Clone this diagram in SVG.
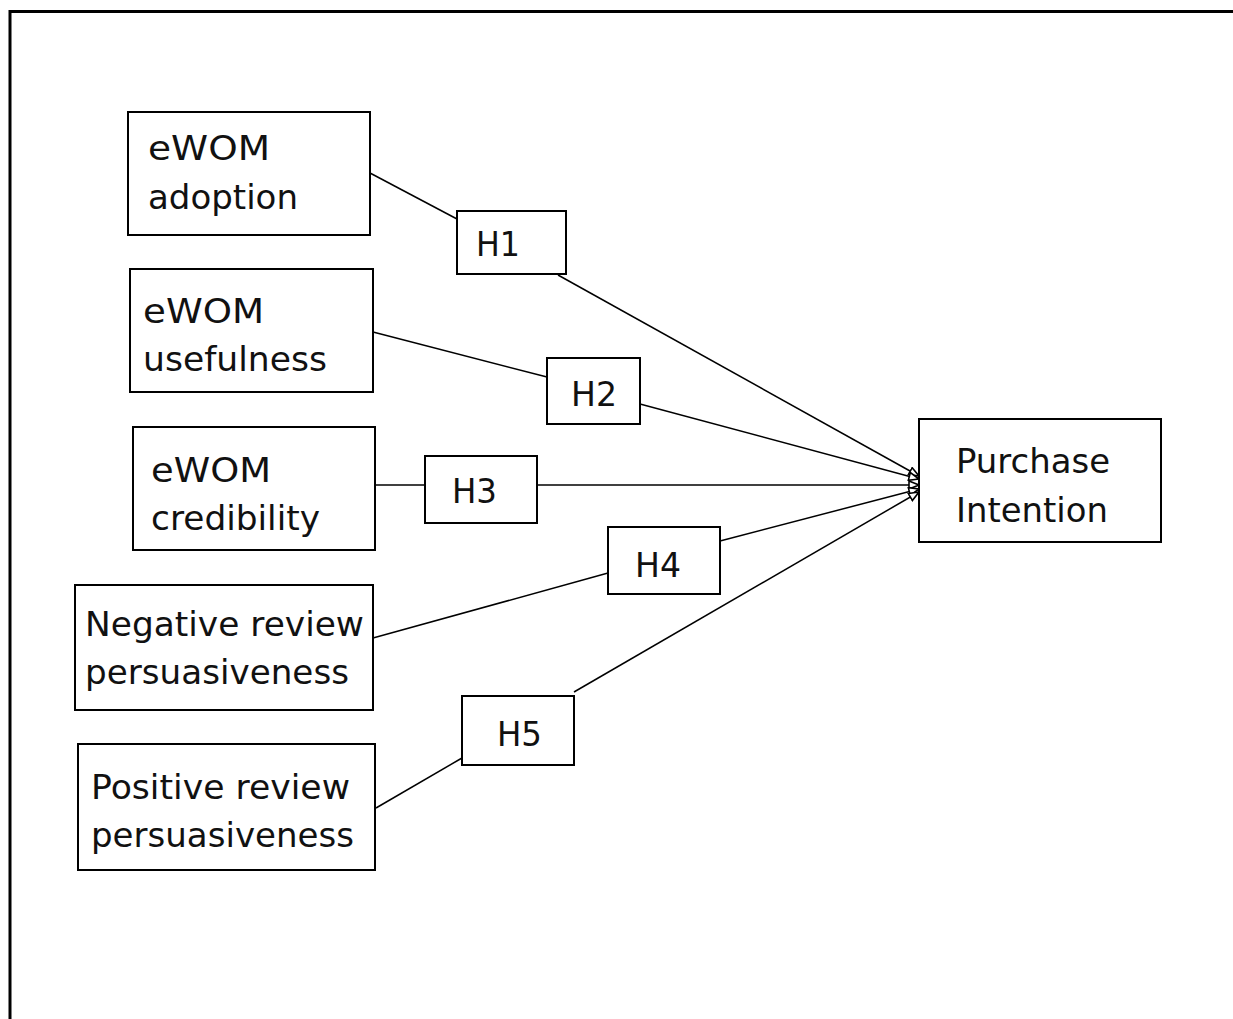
<svg xmlns="http://www.w3.org/2000/svg" width="1233" height="1019" viewBox="0 0 1233 1019">
<defs>
<marker id="arr" markerUnits="userSpaceOnUse" markerWidth="12" markerHeight="10" refX="11" refY="5" orient="auto">
<path d="M1,1 L11,5 L1,9 Z" fill="#fff" stroke="#000" stroke-width="1.6"/>
</marker>
</defs>
<style>
.box{fill:#fff;stroke:#000;stroke-width:2}
.t{font-family:"DejaVu Sans","Liberation Sans",sans-serif;font-size:33px;fill:#111}
.c{fill:none;stroke:#000;stroke-width:1.5}
.frame{fill:none;stroke:#000;stroke-width:3}
</style>
<rect width="1233" height="1019" fill="#fff"/>
<path class="frame" d="M10,1019 L10,11.5 L1233,11.5"/>
<g id="connectors">
<line class="c" x1="370" y1="173" x2="457" y2="219"/>
<line class="c" x1="558" y1="275" x2="919" y2="476" marker-end="url(#arr)"/>
<line class="c" x1="373" y1="332" x2="547" y2="377"/>
<line class="c" x1="640" y1="404" x2="919" y2="479" marker-end="url(#arr)"/>
<line class="c" x1="375" y1="485" x2="425" y2="485"/>
<line class="c" x1="537" y1="485" x2="919" y2="485" marker-end="url(#arr)"/>
<line class="c" x1="373" y1="638" x2="608" y2="573"/>
<line class="c" x1="720" y1="541" x2="919" y2="489" marker-end="url(#arr)"/>
<line class="c" x1="376" y1="808" x2="462" y2="758"/>
<line class="c" x1="574" y1="692" x2="919" y2="492" marker-end="url(#arr)"/>
</g>
<g id="n-adoption">
<rect class="box" x="128" y="112" width="242" height="123"/>
<text class="t" x="148" y="160" textLength="122" lengthAdjust="spacingAndGlyphs">eWOM</text>
<text class="t" x="148" y="209" textLength="150" lengthAdjust="spacingAndGlyphs">adoption</text>
</g>
<g id="n-usefulness">
<rect class="box" x="130" y="269" width="243" height="123"/>
<text class="t" x="143" y="323" textLength="121" lengthAdjust="spacingAndGlyphs">eWOM</text>
<text class="t" x="143" y="371" textLength="184" lengthAdjust="spacingAndGlyphs">usefulness</text>
</g>
<g id="n-credibility">
<rect class="box" x="133" y="427" width="242" height="123"/>
<text class="t" x="151" y="482" textLength="120" lengthAdjust="spacingAndGlyphs">eWOM</text>
<text class="t" x="151" y="530" textLength="169" lengthAdjust="spacingAndGlyphs">credibility</text>
</g>
<g id="n-negative">
<rect class="box" x="75" y="585" width="298" height="125"/>
<text class="t" x="85" y="636" textLength="279" lengthAdjust="spacingAndGlyphs">Negative review</text>
<text class="t" x="85" y="684" textLength="264" lengthAdjust="spacingAndGlyphs">persuasiveness</text>
</g>
<g id="n-positive">
<rect class="box" x="78" y="744" width="297" height="126"/>
<text class="t" x="91" y="799" textLength="259" lengthAdjust="spacingAndGlyphs">Positive review</text>
<text class="t" x="91" y="847" textLength="263" lengthAdjust="spacingAndGlyphs">persuasiveness</text>
</g>
<g id="n-purchase">
<rect class="box" x="919" y="419" width="242" height="123"/>
<text class="t" x="956" y="473" textLength="154" lengthAdjust="spacingAndGlyphs">Purchase</text>
<text class="t" x="956" y="522" textLength="152" lengthAdjust="spacingAndGlyphs">Intention</text>
</g>
<g id="h1">
<rect class="box" x="457" y="211" width="109" height="63"/>
<text class="t" x="476" y="256" textLength="44" lengthAdjust="spacingAndGlyphs">H1</text>
</g>
<g id="h2">
<rect class="box" x="547" y="358" width="93" height="66"/>
<text class="t" x="571" y="406" textLength="46" lengthAdjust="spacingAndGlyphs">H2</text>
</g>
<g id="h3">
<rect class="box" x="425" y="456" width="112" height="67"/>
<text class="t" x="452" y="503" textLength="45" lengthAdjust="spacingAndGlyphs">H3</text>
</g>
<g id="h4">
<rect class="box" x="608" y="527" width="112" height="67"/>
<text class="t" x="635" y="577" textLength="46" lengthAdjust="spacingAndGlyphs">H4</text>
</g>
<g id="h5">
<rect class="box" x="462" y="696" width="112" height="69"/>
<text class="t" x="497" y="746" textLength="45" lengthAdjust="spacingAndGlyphs">H5</text>
</g>
</svg>
